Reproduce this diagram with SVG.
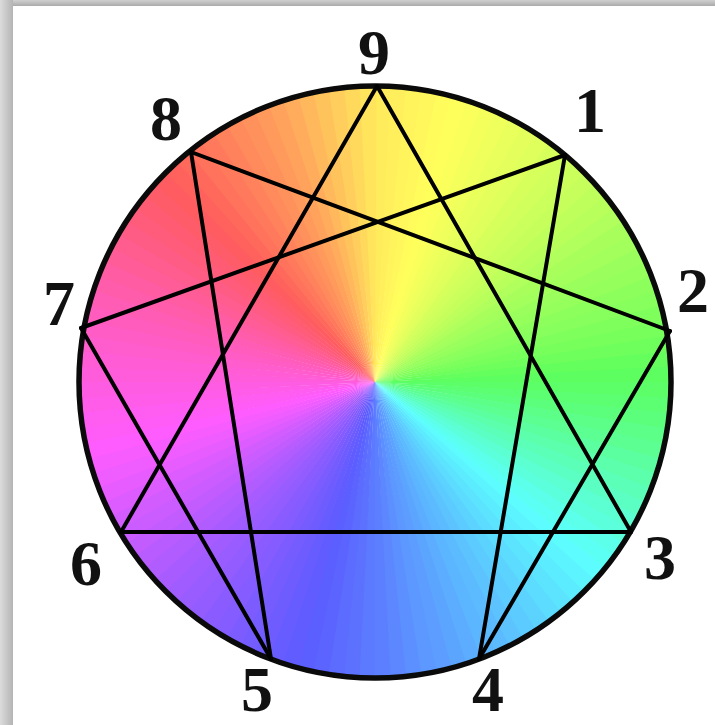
<svg xmlns="http://www.w3.org/2000/svg" width="715" height="725" viewBox="0 0 715 725">
<style>
.lbl{font-family:"Liberation Serif","Times New Roman",serif;font-weight:bold;font-size:64px;fill:#111;text-anchor:middle}
.ln{stroke:#000;stroke-width:4;stroke-linecap:round;fill:none}
</style>
<defs>
<path id="w" d="M0 0L0 -300A300 300 0 0 1 17.27 -299.5Z"/>
<clipPath id="cc"><circle cx="0" cy="0" r="296"/></clipPath>
<linearGradient id="gl" x1="0" y1="0" x2="1" y2="0"><stop offset="0" stop-color="#dcdcdc"/><stop offset="1" stop-color="#b4b4b4"/></linearGradient>
<linearGradient id="gt" x1="0" y1="0" x2="0" y2="1"><stop offset="0" stop-color="#d0d0d0"/><stop offset="1" stop-color="#aaaaaa"/></linearGradient>
</defs>
<rect width="715" height="725" fill="#ffffff"/>
<rect x="0" y="0" width="715" height="6" fill="url(#gt)"/>
<rect x="0" y="0" width="13" height="725" fill="url(#gl)"/>
<g id="wheel" transform="translate(375,382)" clip-path="url(#cc)">
<use href="#w" transform="rotate(0)" fill="hsl(53,100%,68%)"/>
<use href="#w" transform="rotate(3)" fill="hsl(54,100%,68%)"/>
<use href="#w" transform="rotate(6)" fill="hsl(56,100%,68%)"/>
<use href="#w" transform="rotate(9)" fill="hsl(57,100%,68%)"/>
<use href="#w" transform="rotate(12)" fill="hsl(59,100%,68%)"/>
<use href="#w" transform="rotate(15)" fill="hsl(60,100%,68%)"/>
<use href="#w" transform="rotate(18)" fill="hsl(62,100%,68%)"/>
<use href="#w" transform="rotate(21)" fill="hsl(64,100%,68%)"/>
<use href="#w" transform="rotate(24)" fill="hsl(66,100%,68%)"/>
<use href="#w" transform="rotate(27)" fill="hsl(68,100%,68%)"/>
<use href="#w" transform="rotate(30)" fill="hsl(70,100%,68%)"/>
<use href="#w" transform="rotate(33)" fill="hsl(72,100%,68%)"/>
<use href="#w" transform="rotate(36)" fill="hsl(75,100%,68%)"/>
<use href="#w" transform="rotate(39)" fill="hsl(77,100%,68%)"/>
<use href="#w" transform="rotate(42)" fill="hsl(79,100%,68%)"/>
<use href="#w" transform="rotate(45)" fill="hsl(81,100%,68%)"/>
<use href="#w" transform="rotate(48)" fill="hsl(84,100%,68%)"/>
<use href="#w" transform="rotate(51)" fill="hsl(86,100%,68%)"/>
<use href="#w" transform="rotate(54)" fill="hsl(89,100%,68%)"/>
<use href="#w" transform="rotate(57)" fill="hsl(92,100%,68%)"/>
<use href="#w" transform="rotate(60)" fill="hsl(94,100%,68%)"/>
<use href="#w" transform="rotate(63)" fill="hsl(97,100%,68%)"/>
<use href="#w" transform="rotate(66)" fill="hsl(99,100%,68%)"/>
<use href="#w" transform="rotate(69)" fill="hsl(102,100%,68%)"/>
<use href="#w" transform="rotate(72)" fill="hsl(104,100%,68%)"/>
<use href="#w" transform="rotate(75)" fill="hsl(107,100%,68%)"/>
<use href="#w" transform="rotate(78)" fill="hsl(110,100%,68%)"/>
<use href="#w" transform="rotate(81)" fill="hsl(113,100%,68%)"/>
<use href="#w" transform="rotate(84)" fill="hsl(117,100%,68%)"/>
<use href="#w" transform="rotate(87)" fill="hsl(121,100%,68%)"/>
<use href="#w" transform="rotate(90)" fill="hsl(124,100%,68%)"/>
<use href="#w" transform="rotate(93)" fill="hsl(128,100%,68%)"/>
<use href="#w" transform="rotate(96)" fill="hsl(132,100%,68%)"/>
<use href="#w" transform="rotate(99)" fill="hsl(136,100%,68%)"/>
<use href="#w" transform="rotate(102)" fill="hsl(140,100%,68%)"/>
<use href="#w" transform="rotate(105)" fill="hsl(145,100%,68%)"/>
<use href="#w" transform="rotate(108)" fill="hsl(149,100%,68%)"/>
<use href="#w" transform="rotate(111)" fill="hsl(154,100%,68%)"/>
<use href="#w" transform="rotate(114)" fill="hsl(158,100%,68%)"/>
<use href="#w" transform="rotate(117)" fill="hsl(163,100%,68%)"/>
<use href="#w" transform="rotate(120)" fill="hsl(167,100%,68%)"/>
<use href="#w" transform="rotate(123)" fill="hsl(172,100%,68%)"/>
<use href="#w" transform="rotate(126)" fill="hsl(176,100%,68%)"/>
<use href="#w" transform="rotate(129)" fill="hsl(181,100%,68%)"/>
<use href="#w" transform="rotate(132)" fill="hsl(184,100%,68%)"/>
<use href="#w" transform="rotate(135)" fill="hsl(187,100%,68%)"/>
<use href="#w" transform="rotate(138)" fill="hsl(190,100%,68%)"/>
<use href="#w" transform="rotate(141)" fill="hsl(193,100%,68%)"/>
<use href="#w" transform="rotate(144)" fill="hsl(196,100%,68%)"/>
<use href="#w" transform="rotate(147)" fill="hsl(199,100%,68%)"/>
<use href="#w" transform="rotate(150)" fill="hsl(202,100%,68%)"/>
<use href="#w" transform="rotate(153)" fill="hsl(205,100%,68%)"/>
<use href="#w" transform="rotate(156)" fill="hsl(207,100%,68%)"/>
<use href="#w" transform="rotate(159)" fill="hsl(210,100%,68%)"/>
<use href="#w" transform="rotate(162)" fill="hsl(213,100%,68%)"/>
<use href="#w" transform="rotate(165)" fill="hsl(216,100%,68%)"/>
<use href="#w" transform="rotate(168)" fill="hsl(218,100%,68%)"/>
<use href="#w" transform="rotate(171)" fill="hsl(221,100%,68%)"/>
<use href="#w" transform="rotate(174)" fill="hsl(224,100%,68%)"/>
<use href="#w" transform="rotate(177)" fill="hsl(227,100%,68%)"/>
<use href="#w" transform="rotate(180)" fill="hsl(229,100%,68%)"/>
<use href="#w" transform="rotate(183)" fill="hsl(232,100%,68%)"/>
<use href="#w" transform="rotate(186)" fill="hsl(234,100%,68%)"/>
<use href="#w" transform="rotate(189)" fill="hsl(237,100%,68%)"/>
<use href="#w" transform="rotate(192)" fill="hsl(239,100%,68%)"/>
<use href="#w" transform="rotate(195)" fill="hsl(242,100%,68%)"/>
<use href="#w" transform="rotate(198)" fill="hsl(244,100%,68%)"/>
<use href="#w" transform="rotate(201)" fill="hsl(247,100%,68%)"/>
<use href="#w" transform="rotate(204)" fill="hsl(249,100%,68%)"/>
<use href="#w" transform="rotate(207)" fill="hsl(252,100%,68%)"/>
<use href="#w" transform="rotate(210)" fill="hsl(255,100%,68%)"/>
<use href="#w" transform="rotate(213)" fill="hsl(257,100%,68%)"/>
<use href="#w" transform="rotate(216)" fill="hsl(260,100%,68%)"/>
<use href="#w" transform="rotate(219)" fill="hsl(262,100%,68%)"/>
<use href="#w" transform="rotate(222)" fill="hsl(265,100%,68%)"/>
<use href="#w" transform="rotate(225)" fill="hsl(268,100%,68%)"/>
<use href="#w" transform="rotate(228)" fill="hsl(271,100%,68%)"/>
<use href="#w" transform="rotate(231)" fill="hsl(274,100%,68%)"/>
<use href="#w" transform="rotate(234)" fill="hsl(278,100%,68%)"/>
<use href="#w" transform="rotate(237)" fill="hsl(281,100%,68%)"/>
<use href="#w" transform="rotate(240)" fill="hsl(284,100%,68%)"/>
<use href="#w" transform="rotate(243)" fill="hsl(287,100%,68%)"/>
<use href="#w" transform="rotate(246)" fill="hsl(291,100%,68%)"/>
<use href="#w" transform="rotate(249)" fill="hsl(294,100%,68%)"/>
<use href="#w" transform="rotate(252)" fill="hsl(297,100%,68%)"/>
<use href="#w" transform="rotate(255)" fill="hsl(300,100%,68%)"/>
<use href="#w" transform="rotate(258)" fill="hsl(303,100%,68%)"/>
<use href="#w" transform="rotate(261)" fill="hsl(305,100%,68%)"/>
<use href="#w" transform="rotate(264)" fill="hsl(308,100%,68%)"/>
<use href="#w" transform="rotate(267)" fill="hsl(310,100%,68%)"/>
<use href="#w" transform="rotate(270)" fill="hsl(313,100%,68%)"/>
<use href="#w" transform="rotate(273)" fill="hsl(315,100%,68%)"/>
<use href="#w" transform="rotate(276)" fill="hsl(318,100%,68%)"/>
<use href="#w" transform="rotate(279)" fill="hsl(321,100%,68%)"/>
<use href="#w" transform="rotate(282)" fill="hsl(324,100%,68%)"/>
<use href="#w" transform="rotate(285)" fill="hsl(327,100%,68%)"/>
<use href="#w" transform="rotate(288)" fill="hsl(331,100%,68%)"/>
<use href="#w" transform="rotate(291)" fill="hsl(334,100%,68%)"/>
<use href="#w" transform="rotate(294)" fill="hsl(338,100%,68%)"/>
<use href="#w" transform="rotate(297)" fill="hsl(341,100%,68%)"/>
<use href="#w" transform="rotate(300)" fill="hsl(345,100%,68%)"/>
<use href="#w" transform="rotate(303)" fill="hsl(348,100%,68%)"/>
<use href="#w" transform="rotate(306)" fill="hsl(351,100%,68%)"/>
<use href="#w" transform="rotate(309)" fill="hsl(355,100%,68%)"/>
<use href="#w" transform="rotate(312)" fill="hsl(358,100%,68%)"/>
<use href="#w" transform="rotate(315)" fill="hsl(2,100%,68%)"/>
<use href="#w" transform="rotate(318)" fill="hsl(5,100%,68%)"/>
<use href="#w" transform="rotate(321)" fill="hsl(8,100%,68%)"/>
<use href="#w" transform="rotate(324)" fill="hsl(11,100%,68%)"/>
<use href="#w" transform="rotate(327)" fill="hsl(14,100%,68%)"/>
<use href="#w" transform="rotate(330)" fill="hsl(17,100%,68%)"/>
<use href="#w" transform="rotate(333)" fill="hsl(20,100%,68%)"/>
<use href="#w" transform="rotate(336)" fill="hsl(23,100%,68%)"/>
<use href="#w" transform="rotate(339)" fill="hsl(26,100%,68%)"/>
<use href="#w" transform="rotate(342)" fill="hsl(30,100%,68%)"/>
<use href="#w" transform="rotate(345)" fill="hsl(34,100%,68%)"/>
<use href="#w" transform="rotate(348)" fill="hsl(38,100%,68%)"/>
<use href="#w" transform="rotate(351)" fill="hsl(42,100%,68%)"/>
<use href="#w" transform="rotate(354)" fill="hsl(46,100%,68%)"/>
<use href="#w" transform="rotate(357)" fill="hsl(50,100%,68%)"/>
</g>
<circle id="rim" cx="375" cy="382" r="296" fill="none" stroke="#0a0a0a" stroke-width="5.5"/>
<g id="connectors">
<line class="ln" x1="377" y1="86" x2="631" y2="532"/>
<line class="ln" x1="631" y1="532" x2="121" y2="532"/>
<line class="ln" x1="121" y1="532" x2="377" y2="86"/>
<line class="ln" x1="565" y1="155" x2="479" y2="659"/>
<line class="ln" x1="479" y1="659" x2="670" y2="331"/>
<line class="ln" x1="670" y1="331" x2="191" y2="152"/>
<line class="ln" x1="191" y1="152" x2="271" y2="659"/>
<line class="ln" x1="271" y1="659" x2="81" y2="328"/>
<line class="ln" x1="81" y1="328" x2="565" y2="155"/>
</g>
<g id="n9"><text class="lbl" x="374" y="74">9</text></g>
<g id="n1"><text class="lbl" x="590" y="132">1</text></g>
<g id="n2"><text class="lbl" x="693" y="312">2</text></g>
<g id="n3"><text class="lbl" x="660" y="579">3</text></g>
<g id="n4"><text class="lbl" x="488" y="711">4</text></g>
<g id="n5"><text class="lbl" x="257" y="711">5</text></g>
<g id="n6"><text class="lbl" x="86" y="585">6</text></g>
<g id="n7"><text class="lbl" x="59" y="325">7</text></g>
<g id="n8"><text class="lbl" x="166" y="140">8</text></g>
</svg>
